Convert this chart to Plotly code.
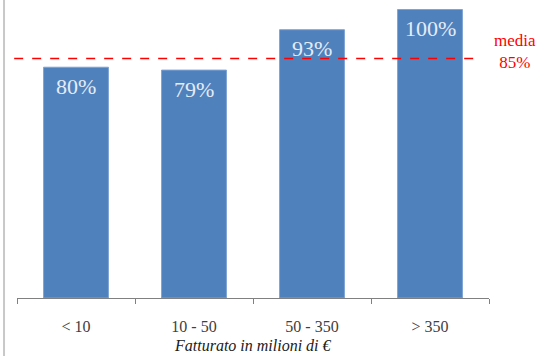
import plotly.graph_objects as go

categories = ["< 10", "10 - 50", "50 - 350", "> 350"]
values = [80, 79, 93, 100]
media_line = 83
media_label = "media<br>85%"
x_title = "Fatturato in milioni di €"

SERIF = "Liberation Serif"

fig = go.Figure()
fig.add_trace(go.Bar(
    x=categories, y=values,
    marker=dict(color="#4F81BD", line=dict(color="#7FA3D3", width=1)),
    width=0.55,
    hoverinfo="x+y",
))

for c, v in zip(categories, values):
    fig.add_annotation(x=c, y=v, xref="x", yref="y", text=f"{v}%",
                       showarrow=False, yshift=-19,
                       xanchor="center", yanchor="middle",
                       font=dict(family=SERIF, size=22, color="#E4ECF6"))

fig.add_shape(type="line", xref="paper", yref="y",
              x0=-0.006, x1=0.985, y0=media_line, y1=media_line,
              line=dict(color="#FF0000", width=1.5, dash="dash"))
fig.add_shape(type="line", xref="paper", yref="paper",
              x0=-0.0275, x1=-0.0275, y0=-0.3, y1=1.05,
              line=dict(color="#C8C8C8", width=2))

fig.add_annotation(xref="paper", yref="y", x=1.055, y=85.4,
                   text=media_label, showarrow=False,
                   font=dict(family=SERIF, size=17, color="#FF0000"),
                   xanchor="center", yanchor="middle", align="center")
fig.add_annotation(xref="paper", yref="paper", x=0.5, y=-0.16,
                   text=f"<i>{x_title}</i>", showarrow=False,
                   font=dict(family=SERIF, size=16, color="#202020"),
                   xanchor="center", yanchor="middle")

fig.update_layout(
    width=540, height=356,
    margin=dict(l=17, r=51, t=0, b=58),
    paper_bgcolor="white", plot_bgcolor="white",
    showlegend=False,
    bargap=0.45,
    font=dict(family=SERIF),
    xaxis=dict(showline=True, linecolor="#808080", linewidth=1,
               ticks="outside", ticklen=5, tickcolor="#808080",
               tickson="boundaries", showgrid=False,
               tickfont=dict(family=SERIF, size=16, color="#404040"),
               ticklabelstandoff=14),
    yaxis=dict(range=[0, 103.3], visible=False, showgrid=False),
)

fig.write_html("out.html")
